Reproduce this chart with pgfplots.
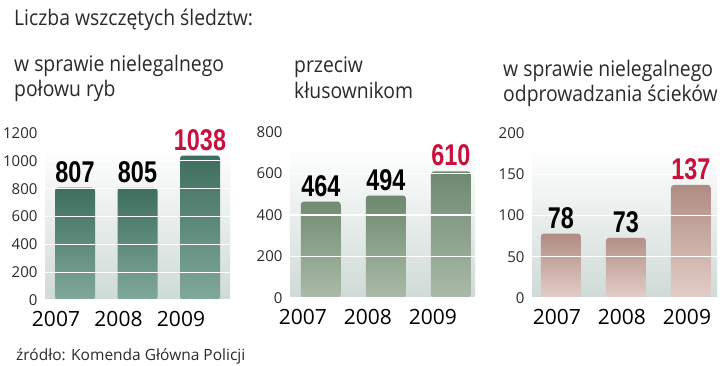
\documentclass[border=0pt]{standalone}
\usepackage{fontspec}
\setmainfont{Open Sans}
\newfontfamily\titlefont{Open Sans}[FakeStretch=0.9]
\newfontfamily\numfont{Liberation Sans}
\usepackage{pgfplots}
\pgfplotsset{compat=1.18}
\definecolor{txt}{HTML}{2A2A2A}
\definecolor{labred}{HTML}{C8103C}
\definecolor{aTop}{HTML}{3E6E5E}
\definecolor{aBot}{HTML}{80A89B}
\definecolor{bTop}{HTML}{6E896F}
\definecolor{bBot}{HTML}{AABAA9}
\definecolor{cTop}{HTML}{B08C83}
\definecolor{cBot}{HTML}{E3CEC7}
\definecolor{bgBot}{HTML}{CFDAD6}
\pgfplotsset{
  panel/.style={
    scale only axis, width=190pt, height=166pt, anchor=south west,
    ymin=0, xtick={0,1,2}, xticklabels={2007,2008,2009},
    axis line style={draw=none}, major tick style={draw=none},
    ymajorgrids, grid style={white, line width=1.1pt}, axis on top,
    ybar, bar width=40pt, bar shift=0pt,
    /pgf/number format/1000 sep={},
    /pgf/number format/assume math mode=true,
    yticklabel style={font=\fontsize{15}{15}\selectfont, text=txt, xshift=1pt},
    xticklabel style={font=\fontsize{21}{21}\selectfont, text=black, yshift=-3pt},
    nodes near coords={\scalebox{0.78}[1]{\numfont\bfseries\pgfmathprintnumber{\pgfplotspointmeta}}},
    every node near coord/.append style={font=\fontsize{30}{30}\selectfont, text=black, inner sep=2pt, yshift=3pt},
    clip=false,
  },
}
\begin{document}
\begin{tikzpicture}[x=1pt,y=1pt]
\path[use as bounding box] (0,0) rectangle (720,-366);
\begin{scope}[every node/.style={anchor=base west, text=txt, inner sep=0pt}]
\node[font=\titlefont\fontsize{21.5}{24}\selectfont] at (14,-26) {Liczba wszczętych śledztw:};
\node[font=\titlefont\fontsize{21.5}{24}\selectfont] at (14,-72) {w sprawie nielegalnego};
\node[font=\titlefont\fontsize{21.5}{24}\selectfont] at (14,-97) {połowu ryb};
\node[font=\titlefont\fontsize{21.5}{24}\selectfont] at (294,-73) {przeciw};
\node[font=\titlefont\fontsize{21.5}{24}\selectfont] at (294,-99) {kłusownikom};
\node[font=\titlefont\fontsize{21.5}{24}\selectfont] at (503,-77) {w sprawie nielegalnego};
\node[font=\titlefont\fontsize{21.5}{24}\selectfont] at (503,-102) {odprowadzania ścieków};
\node[font=\fontsize{15.5}{17}\selectfont] at (16,-360) {źródło: Komenda Główna Policji};
\end{scope}

% Panel 1
\begin{axis}[panel, at={(40pt,-300pt)}, height=167pt, ymax=1200, ytick={0,200,...,1200},
  xmin=-0.56, xmax=2.48, xticklabel style={xshift=-19pt}]
\fill[top color=white, bottom color=bgBot] (rel axis cs:0.03,0) rectangle (rel axis cs:1,0.92);
\addplot[draw=none, top color=aTop, bottom color=aBot, rounded corners=3pt] coordinates {(0,807) (1,805)};
\addplot[draw=none, top color=aTop, bottom color=aBot, rounded corners=3pt,
  every node near coord/.append style={text=labred}] coordinates {(2,1038)};
\draw[black, line width=1.8pt] (rel axis cs:0,0) -- (rel axis cs:1,0);
\end{axis}

% Panel 2
\begin{axis}[panel, at={(285pt,-298pt)}, height=166pt, ymax=800, ytick={0,200,...,800},
  xmin=-0.55, xmax=2.37, xticklabel style={xshift=-18pt}]
\fill[top color=white, bottom color=bgBot] (rel axis cs:0.03,0) rectangle (rel axis cs:1,0.92);
\addplot[draw=none, top color=bTop, bottom color=bBot, rounded corners=3pt] coordinates {(0,464) (1,494)};
\addplot[draw=none, top color=bTop, bottom color=bBot, rounded corners=3pt,
  every node near coord/.append style={text=labred}] coordinates {(2,610)};
\draw[black, line width=1.8pt] (rel axis cs:0,0) -- (rel axis cs:1,0);
\end{axis}

% Panel 3
\begin{axis}[panel, at={(527pt,-298pt)}, height=165pt, ymax=200, ytick={0,50,...,200},
  xmin=-0.52, xmax=2.40, xticklabel style={xshift=-4pt}]
\fill[top color=white, bottom color=bgBot] (rel axis cs:0.03,0) rectangle (rel axis cs:1,0.92);
\addplot[draw=none, top color=cTop, bottom color=cBot, rounded corners=3pt] coordinates {(0,78) (1,73)};
\addplot[draw=none, top color=cTop, bottom color=cBot, rounded corners=3pt,
  every node near coord/.append style={text=labred}] coordinates {(2,137)};
\draw[black, line width=1.8pt] (rel axis cs:0,0) -- (rel axis cs:1,0);
\end{axis}
\end{tikzpicture}
\end{document}
